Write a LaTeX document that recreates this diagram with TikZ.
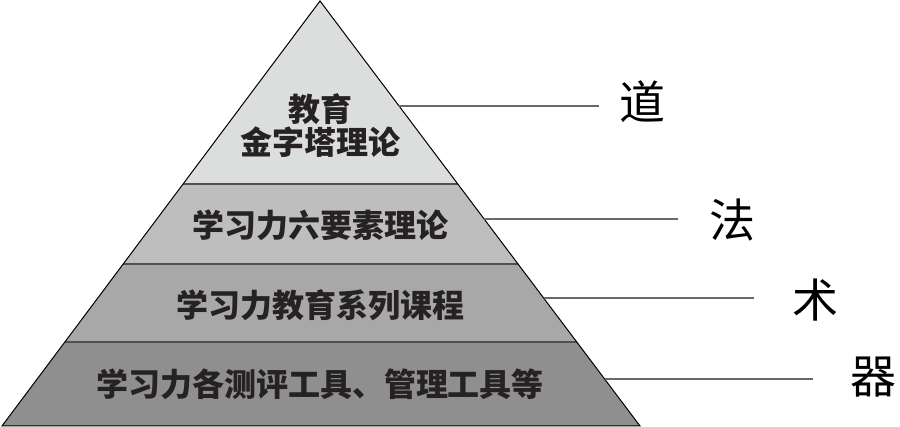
\documentclass[tikz,border=0pt]{standalone}
\usepackage{fontspec}
\newfontfamily\cjk{Noto Sans CJK SC}
\usetikzlibrary{calc}

\definecolor{tierA}{RGB}{220,221,221}
\definecolor{tierB}{RGB}{190,190,190}
\definecolor{tierC}{RGB}{168,168,168}
\definecolor{tierD}{RGB}{143,143,143}
\definecolor{sepgray}{RGB}{80,80,80}
\definecolor{leadgray}{RGB}{105,105,105}
\definecolor{inkgray}{RGB}{38,34,35}

\begin{document}
\begin{tikzpicture}[x=1pt, y=-1pt,
    tiertext/.style={font=\cjk\bfseries\fontsize{32}{33}\selectfont, text=inkgray, align=center, inner sep=0pt},
    sidetext/.style={font=\cjk\fontsize{46}{46}\selectfont, text=black, inner sep=0pt},
    sepline/.style={draw=sepgray, line width=1.5pt},
    leader/.style={draw=leadgray, line width=1.3pt}]
    \useasboundingbox[fill=white] (0,0) rectangle (900,427);

    % Corners of the pyramid
    \coordinate (apex) at (320,1);
    \coordinate (bl) at (2,426);
    \coordinate (br) at (640,426);
    \coordinate (l1) at (183.1,184);  \coordinate (r1) at (457.8,184);
    \coordinate (l2) at (123.2,264);  \coordinate (r2) at (518.0,264);
    \coordinate (l3) at (64.9,342);   \coordinate (r3) at (576.8,342);

    % Fill the tiers
    \fill[tierA] (apex) -- (r1) -- (l1) -- cycle;
    \fill[tierB] (l1) -- (r1) -- (r2) -- (l2) -- cycle;
    \fill[tierC] (l2) -- (r2) -- (r3) -- (l3) -- cycle;
    \fill[tierD] (l3) -- (r3) -- (br) -- (bl) -- cycle;

    % Tier borders
    \draw[sepline] (l1) -- (r1);
    \draw[sepline] (l2) -- (r2);
    \draw[sepline] (l3) -- (r3);
    \draw[black, line width=1pt] (apex) -- (br) -- (bl) -- cycle;

    % Tier texts
    \node[tiertext] (tier1) at (320,126) {教育\\金字塔理论};
    \node[tiertext] (tier2) at (320,225) {学习力六要素理论};
    \node[tiertext] (tier3) at (320,305) {学习力教育系列课程};
    \node[tiertext] (tier4) at (320,384) {学习力各测评工具、管理工具等};

    % Side words
    \node[sidetext] (dao) at (642,102) {道};
    \node[sidetext] (fa) at (732,220) {法};
    \node[sidetext] (shu) at (815,300) {术};
    \node[sidetext] (qi) at (873,377) {器};

    % Leader lines
    \coordinate (e1) at (399.1,106);
    \coordinate (e2) at (484.1,219);
    \coordinate (e3) at (543.6,298);
    \coordinate (e4) at (604.6,379);
    \draw[leader, shorten >=20pt] (e1) -- (e1 -| dao.west);
    \draw[leader, shorten >=31pt] (e2) -- (e2 -| fa.west);
    \draw[leader, shorten >=38pt] (e3) -- (e3 -| shu.west);
    \draw[leader, shorten >=37pt] (e4) -- (e4 -| qi.west);
\end{tikzpicture}
\end{document}
